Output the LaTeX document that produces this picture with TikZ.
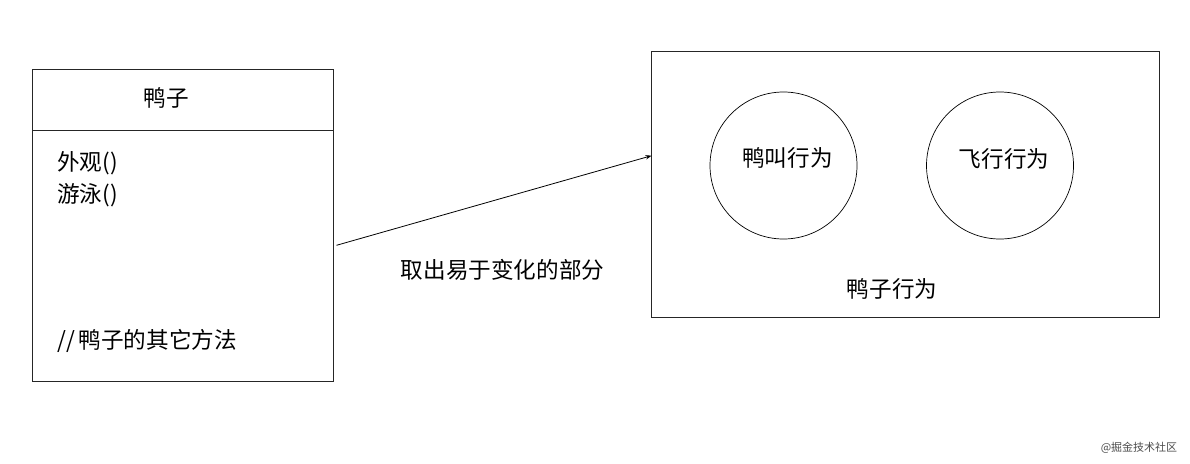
\documentclass[tikz,border=0pt]{standalone}
\usepackage{fontspec}
\setmainfont{Noto Sans CJK SC}
\usetikzlibrary{arrows.meta}
\tikzset{
  boxline/.style={draw=black!85, line width=0.9pt},
  circ/.style={circle, draw=black, line width=0.7pt, minimum size=147pt, inner sep=0pt},
  txt/.style={inner sep=0pt, font=\fontsize{22.6}{27}\selectfont},
  txtw/.style={txt, anchor=west},
  conn/.style={draw=black, line width=0.8pt, -{Stealth[length=6pt,width=4.5pt]}},
  wm/.style={inner sep=0pt, text=black!70, font=\fontsize{11}{13}\selectfont}
}
\begin{document}
\begin{tikzpicture}[x=1pt,y=-1pt]
\useasboundingbox[fill=white] (0,0) rectangle (1190,463);
% left class box
\node[boxline, rectangle, minimum width=301pt, minimum height=312.5pt, inner sep=0pt] (duck) at (182.8,225.3) {};
\coordinate (divL) at (32.3,130.7);
\coordinate (divR) at (333.3,130.7);
\draw[boxline] (divL) -- (divR);
\node[txt] (title) at (166,98) {鸭子};
\node[txtw] (m1) at (57,163) {外观()};
\node[txtw] (m2) at (57,195) {游泳()};
\node[txtw] (m3) at (57,341) {//\,鸭子的其它方法};
% right behaviour box
\node[boxline, rectangle, minimum width=508pt, minimum height=266pt, inner sep=0pt] (beh) at (905,184) {};
\node[circ] (quack) at (783.5,165.5) {};
\node[circ] (fly) at (1000,165.5) {};
\node[txt] (tq) at (787.5,158) {鸭叫行为};
\node[txt] (tf) at (1004,159) {飞行行为};
\node[txt] (tb) at (892,289) {鸭子行为};
% connector
\coordinate (a) at (336.5,245.3);
\coordinate (b) at (651.5,155.7);
\draw[conn] (a) -- (b);
\node[txt] (lab) at (502.5,270) {取出易于变化的部分};
% watermark
\node[wm] (wmk) at (1139,448) {@掘金技术社区};
\end{tikzpicture}
\end{document}
